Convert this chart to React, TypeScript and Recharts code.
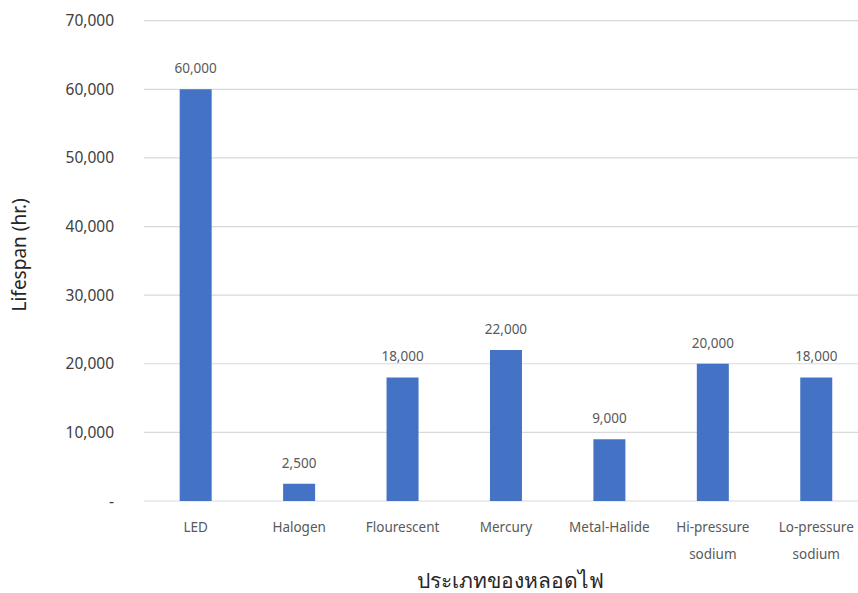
import React from 'react';
import { Bar, BarChart, CartesianGrid, Label, LabelList, XAxis, YAxis } from 'recharts';

const lampTypes = [
  'LED',
  'Halogen',
  'Flourescent',
  'Mercury',
  'Metal-Halide',
  'Hi-pressure sodium',
  'Lo-pressure sodium',
];
const lifespanHours = [60000, 2500, 18000, 22000, 9000, 20000, 18000];
const yTicks = [0, 10000, 20000, 30000, 40000, 50000, 60000, 70000];

const data = lampTypes.map((name, i) => ({ name, hours: lifespanHours[i] }));

const FONT = '"Noto Sans", "Open Sans", sans-serif';
const fmt = (v: number) => (v === 0 ? '-' : v.toLocaleString('en-US'));

// category names break onto two lines after the first word when they contain "pressure"
const LampTick = (props: any) => {
  const { x, y, payload } = props;
  const text: string = payload.value;
  const lines = text.includes(' ') ? [text.slice(0, text.indexOf(' ')), text.slice(text.indexOf(' ') + 1)] : [text];
  return (
    <text x={x} y={y} textAnchor="middle" fill="#595959" fontSize={13.5} fontFamily={FONT}>
      {lines.map((l, i) => (
        <tspan key={i} x={x} dy={i === 0 ? 31 : 27}>
          {l}
        </tspan>
      ))}
    </text>
  );
};

const App: React.FC = () => (
  <div style={{ position: 'fixed', left: 0, top: 0, width: 858, height: 593, overflow: 'hidden', background: '#fff' }}>
    <BarChart
      width={868}
      height={593}
      data={data}
      margin={{ top: 20.7, right: 0, bottom: 0, left: 0 }}
      barCategoryGap="34.5%"
    >
      <CartesianGrid vertical={false} stroke="#d9d9d9" strokeWidth={1.2} />
      <XAxis
        dataKey="name"
        axisLine={false}
        tickLine={false}
        tickSize={0}
        tickMargin={0}
        height={92}
        interval={0}
        tick={<LampTick />}
      >
        <Label
          content={({ viewBox }: any) => (
            <text
              x={viewBox.x + viewBox.width / 2 + 4}
              y={588}
              textAnchor="middle"
              fill="#262626"
              fontSize={21}
              fontFamily={FONT}
            >
              ประเภทของหลอดไฟ
            </text>
          )}
        />
      </XAxis>
      <YAxis
        domain={[0, 70000]}
        ticks={yTicks}
        tickFormatter={fmt}
        axisLine={false}
        tickLine={false}
        tickSize={0}
        tickMargin={30}
        width={144}
        tick={{ fill: '#404040', fontSize: 15.5, fontFamily: FONT }}
      >
        <Label
          content={({ viewBox }: any) => {
            const cx = 26;
            const cy = viewBox.y + viewBox.height / 2 - 6;
            return (
              <text
                x={cx}
                y={cy}
                transform={`rotate(-90 ${cx} ${cy})`}
                textAnchor="middle"
                fill="#262626"
                fontSize={19}
                fontFamily={FONT}
              >
                Lifespan (hr.)
              </text>
            );
          }}
        />
      </YAxis>
      <Bar dataKey="hours" fill="#4472C4" isAnimationActive={false}>
        <LabelList
          dataKey="hours"
          position="top"
          offset={16}
          formatter={(v: any) => fmt(Number(v))}
          fill="#595959"
          fontSize={13.5}
          fontFamily={FONT}
        />
      </Bar>
    </BarChart>
  </div>
);

export default App;
